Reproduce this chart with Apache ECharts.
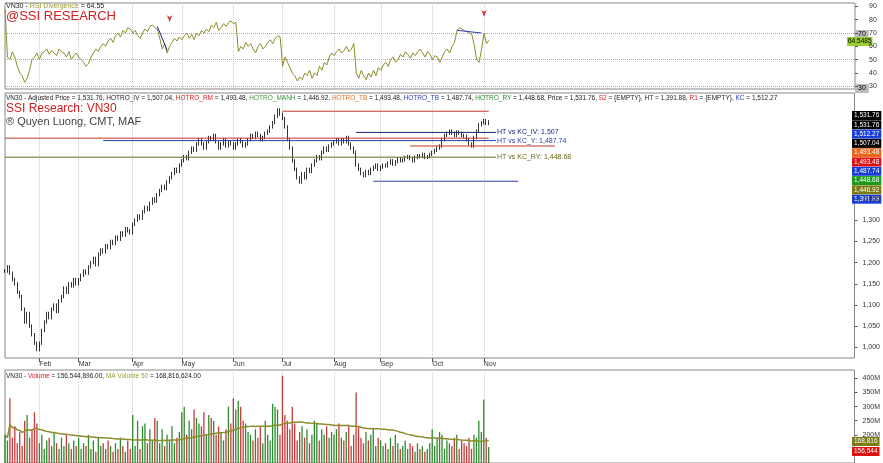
<!DOCTYPE html>
<html><head><meta charset="utf-8">
<script src="https://cdn.jsdelivr.net/npm/echarts@6/dist/echarts.min.js"></script>
<style>body{margin:0;background:#fff}#c{width:883px;height:463px}</style>
</head><body><div id="c"></div>
<script>
// daily closes, Jan .. early Nov
const closes = [
  1180,1190,1175,1160,1150,1130,1120,1090,1060,1080,1050,1030,1010,995,
  1010,1040,1060,1080,1070,1090,1100,1085,1110,1120,1140,1130,1150,1145,1160,1150,
  1160,1170,1180,1175,1190,1200,1210,1195,1220,1230,1225,1240,1235,1250,1245,1260,1255,1270,1265,1280,1275,1270,
  1290,1300,1310,1305,1320,1330,1325,1340,1350,1345,1360,1370,1380,1375,1390,1400,1410,1420,1415,1430,
  1440,1450,1445,1460,1470,1465,1480,1490,1480,1470,1485,1495,1490,1500,1485,1470,1480,1490,1475,1485,1480,
  1470,1480,1490,1485,1475,1480,1490,1500,1495,1505,1500,1490,1495,1505,1510,1520,1530,1545,1560,1550,
  1540,1520,1490,1470,1440,1420,1400,1390,1410,1400,1420,1415,1430,1440,1450,1445,1460,1470,1465,1475,1480,
  1485,1490,1480,1490,1485,1495,1480,1470,1460,1430,1420,1410,1405,1415,1410,1420,1425,1430,1420,
  1425,1430,1428,1435,1440,1432,1438,1445,1440,1442,1448,1450,1445,1440,1448,1452,1450,1455,1448,1450,1455,
  1460,1465,1470,1475,1490,1500,1505,1510,1505,1500,1508,1505,1500,1498,1490,1480,1475,1495,1510,1525,1530,
  1535,1528,1532
];
// volume, millions
const volumes = [
  200,180,330,190,230,170,210,160,250,270,190,220,280,240,
  170,200,150,180,190,160,210,170,150,190,160,200,170,150,180,160,
  190,150,170,160,200,150,180,140,190,160,170,150,180,160,140,170,150,190,160,140,180,150,
  270,160,250,150,230,240,170,220,180,260,250,170,220,160,200,180,230,170,190,210,
  280,300,200,250,220,290,260,240,230,280,200,270,260,250,200,230,210,180,220,300,240,
  330,290,320,300,250,240,210,200,180,220,190,230,170,250,200,180,310,300,290,200,
  410,270,250,220,300,240,180,210,230,190,220,170,200,250,240,180,220,200,230,190,210,
  200,220,240,190,180,210,230,160,200,350,230,190,170,210,180,200,220,160,190,
  180,160,170,150,190,160,200,170,150,160,180,150,170,160,140,170,150,160,140,150,170,
  220,160,190,210,200,150,180,170,160,190,200,150,180,170,160,190,150,200,190,250,210,
  325,190,157
];
const rsi = [
  88,52,50,56,52,45,40,38,33,36,42,50,52,55,
  50,55,56,58,54,57,55,53,58,56,55,52,56,50,53,55,
  52,50,48,45,47,52,55,58,56,60,62,60,64,66,63,68,70,67,72,70,74,73,
  70,72,68,66,70,73,71,75,76,74,73,66,58,62,55,60,63,66,64,67,
  65,68,70,66,69,65,70,68,72,70,73,71,76,74,78,72,74,77,75,78,79,
  77,78,56,60,58,63,60,62,58,55,60,62,58,60,63,65,62,66,68,67,
  45,52,48,44,40,38,34,37,35,40,38,42,36,40,38,45,42,48,46,52,55,
  53,56,58,55,57,60,56,58,62,40,36,42,38,35,40,37,42,38,44,
  42,46,48,45,50,52,48,50,54,52,56,54,51,55,53,56,58,55,52,56,54,
  50,53,52,48,52,56,58,55,60,63,72,74,73,72,71,70,69,61,50,48,58,
  70,62,64.55
];
const monthStarts = {14:'Feb',30:'Mar',52:'Apr',72:'May',93:'Jun',113:'Jul',134:'Aug',153:'Sep',174:'Oct',195:'Nov'};
const totalSlots = 347;
// support / resistance lines: [value, fromIdx, toIdx, colour, label]
const levels = [
  [1557, 113, 197, '#c0392b', ''],
  [1507.04, 143, 200, '#1a237e', 'HT vs KC_IV: 1,507'],
  [1493.48, 0, 197, '#c0392b', ''],
  [1487.74, 40, 200, '#2c3eb0', 'HT vs KC_Y: 1,487.74'],
  [1475, 165, 224, '#c0392b', ''],
  [1448.68, 0, 200, '#6b6b1a', 'HT vs KC_RY: 1,448.68'],
  [1391.88, 150, 209, '#2c3eb0', '']
];
const priceTags = [
  ['1,531.76','#000'],['1,531.76','#000'],['1,512.27','#1a3fd6'],['1,507.04','#000'],
  ['1,493.48','#e8651a'],['1,493.48','#e01010'],['1,487.74','#1a3fd6'],['1,448.68','#1a9a1a'],
  ['1,446.92','#7a7a10'],['1,391.88','#1a3fd6']
];
// header pieces: [text, colour]
const priceHeader = [
  ['VN30 - Adjusted Price = 1,531.76, HOTRO_IV = 1,507.04, ', '#222'], ['HOTRO_RM', '#d02020'],
  [' = 1,493.48, ', '#222'], ['HOTRO_MANH', '#3a9a3a'], [' = 1,446.92, ', '#222'], ['HOTRO_TB', '#e07020'],
  [' = 1,493.48, ', '#222'], ['HOTRO_TB', '#2c3eb0'], [' = 1,487.74, ', '#222'], ['HOTRO_RY', '#2a8a2a'],
  [' = 1,448.68, Price = 1,531.76, ', '#222'], ['S2', '#d02020'], [' = {EMPTY}, HT = 1,391.88, ', '#222'],
  ['R1', '#d02020'], [' = {EMPTY}, ', '#222'], ['KC', '#2c3eb0'], [' = 1,512.27', '#222']
];

const cats = Array.from({length: totalSlots}, (_, i) => i);
const ohlc = closes.map((c, i) => {
  const o = i ? closes[i - 1] : c;
  return [o, c, Math.min(o, c) - 4, Math.max(o, c) + 4];
});
const volData = volumes.map((v, i) => ({
  value: v,
  itemStyle: {color: (i && closes[i] < closes[i - 1]) ? '#c43b3b' : '#2e8b2e'}
}));
const ma50 = volumes.map((_, i) => {
  const s = volumes.slice(Math.max(0, i - 49), i + 1);
  return +(s.reduce((a, b) => a + b, 0) / s.length).toFixed(1);
});

const isMonth = (i) => monthStarts[i] !== undefined;
function xAxis(gi, showLabel) {
  return {
    type: 'category', gridIndex: gi, data: cats, boundaryGap: false,
    axisLine: {show: false},
    axisTick: {show: showLabel, interval: isMonth, length: 4, lineStyle: {color: '#555'}},
    axisLabel: {show: showLabel, interval: isMonth, formatter: (v) => monthStarts[v] || '',
      fontSize: 7, color: '#333', align: 'left', margin: 3},
    splitLine: {show: true, interval: isMonth, lineStyle: {color: '#ccc', type: 'dotted'}}
  };
}

const series = [
  {type: 'line', xAxisIndex: 0, yAxisIndex: 0, data: rsi, symbol: 'none',
   lineStyle: {color: '#8c8c2a', width: 1},
   markLine: {silent: true, symbol: 'none', label: {show: false},
     lineStyle: {color: '#aaa', type: 'dotted', width: 1},
     data: [{yAxis: 70}, {yAxis: 50}, {yAxis: 30}]}},
  {type: 'line', xAxisIndex: 0, yAxisIndex: 0, data: [[62, 75], [66, 57]], symbol: 'none',
   lineStyle: {color: '#1a237e', width: 1}},
  {type: 'line', xAxisIndex: 0, yAxisIndex: 0, data: [[184, 72], [194, 70]], symbol: 'none',
   lineStyle: {color: '#2c3eb0', width: 1}},
  {type: 'scatter', xAxisIndex: 0, yAxisIndex: 0, data: [[67, 78], [195, 82]],
   symbol: 'arrow', symbolRotate: 180, symbolSize: [4, 7], itemStyle: {color: '#d01010'}},
  {type: 'candlestick', xAxisIndex: 1, yAxisIndex: 1, data: ohlc, barMaxWidth: 1.6,
   itemStyle: {color: '#000', color0: '#000', borderColor: '#000', borderColor0: '#000', borderWidth: 0.8}},
  {type: 'bar', xAxisIndex: 2, yAxisIndex: 2, data: volData, barWidth: 1.3},
  {type: 'line', xAxisIndex: 2, yAxisIndex: 2, data: ma50, symbol: 'none',
   lineStyle: {color: '#8c8c2a', width: 1.5}}
];
levels.forEach(([v, a, b, col, lab]) => {
  series.push({type: 'line', xAxisIndex: 1, yAxisIndex: 1, symbol: 'none',
    data: [[a, v], [b, v]], lineStyle: {color: col, width: 1},
    endLabel: {show: !!lab, formatter: lab, fontSize: 7, color: col, distance: 1}});
});

const chart = echarts.init(document.getElementById('c'));
const axisLab = {fontSize: 7, color: '#333'};
chart.setOption({
  animation: false,
  textStyle: {fontFamily: 'Liberation Sans, Arial'},
  grid: [
    {left: 5, right: 28, top: 3, height: 86, show: true, borderColor: '#888', borderWidth: 1},
    {left: 5, right: 28, top: 93, height: 265, show: true, borderColor: '#888', borderWidth: 1},
    {left: 5, right: 28, top: 370, height: 93, show: true, borderColor: '#888', borderWidth: 1}
  ],
  xAxis: [xAxis(0, false), xAxis(1, true), xAxis(2, false)],
  yAxis: [
    {gridIndex: 0, position: 'right', min: 28, max: 92.5, interval: 10,
     axisLabel: Object.assign({customValues: [30, 40, 50, 60, 70, 80, 90], margin: 14}, axisLab),
     axisTick: {show: true, customValues: [30, 40, 50, 60, 70, 80, 90], length: 3},
     axisLine: {show: false}, splitLine: {show: false}},
    {gridIndex: 1, position: 'right', min: 975, max: 1600, scale: true,
     axisLabel: Object.assign({customValues: [1000, 1050, 1100, 1150, 1200, 1250, 1300, 1350],
       formatter: (v) => v.toLocaleString('en-US')}, axisLab),
     axisTick: {show: true, customValues: [1000, 1050, 1100, 1150, 1200, 1250, 1300, 1350], length: 3},
     axisLine: {show: false}, splitLine: {show: false}},
    {gridIndex: 2, position: 'right', min: 100, max: 430, scale: true,
     axisLabel: Object.assign({customValues: [200, 250, 300, 350, 400], formatter: (v) => v + 'M'}, axisLab),
     axisTick: {show: true, customValues: [200, 250, 300, 350, 400], length: 3},
     axisLine: {show: false}, splitLine: {show: false}}
  ],
  series: series
});

const g = [
  {type: 'text', left: 6, top: 3, style: {rich: {a: {fontSize: 7, fill: '#222'}, b: {fontSize: 7, fill: '#9a9a30'}},
    text: '{a|VN30 - }{b|RSI Divergence}{a| = 64.55}'}},
  {type: 'text', left: 6, top: 10, style: {text: '@SSI RESEARCH', fontSize: 13, fill: '#d02020'}},
  {type: 'text', left: 6, top: 103, style: {text: 'SSI Research: VN30', fontSize: 12, fill: '#d02020'}},
  {type: 'text', left: 6, top: 116, style: {text: '® Quyen Luong, CMT, MAF', fontSize: 11, fill: '#444'}},
  {type: 'text', left: 6, top: 373, style: {rich: {a: {fontSize: 6.5, fill: '#222'}, r: {fontSize: 6.5, fill: '#d02020'}, o: {fontSize: 6.5, fill: '#9a9a30'}},
    text: '{a|VN30 - }{r|Volume}{a| = 156,544,896.00, }{o|MA Volume 50}{a| = 168,816,624.00}'}},
  // RSI tags
  {type: 'text', left: 855, top: 30, style: {text: '70', fontSize: 7, fill: '#000', backgroundColor: '#bbb', padding: [1, 3]}},
  {type: 'text', left: 847, top: 37, style: {text: '64.5485', fontSize: 6.5, fill: '#000', backgroundColor: '#9acd32', padding: [1, 1]}},
  {type: 'text', left: 855, top: 84, style: {text: '30', fontSize: 7, fill: '#000', backgroundColor: '#bbb', padding: [1, 3]}}
];
// price header pieces laid out one after another
const ctx = document.createElement('canvas').getContext('2d');
ctx.font = '6.5px "Liberation Sans"';
let hx = 6;
priceHeader.forEach(([t, col]) => {
  g.push({type: 'text', left: hx, top: 95, style: {text: t, fontSize: 6.5, fill: col, fontFamily: 'Liberation Sans'}});
  hx += ctx.measureText(t).width;
});
priceTags.forEach(([t, col], i) => {
  g.push({type: 'text', left: 852, top: 111 + i * 9.3, style: {text: t, fontSize: 6.5, fill: '#fff', backgroundColor: col, padding: [1, 2]}});
});
g.push({type: 'text', left: 852, top: 437, style: {text: '168,816', fontSize: 6.5, fill: '#fff', backgroundColor: '#7a7a10', padding: [1, 2]}});
g.push({type: 'text', left: 852, top: 447, style: {text: '156,544', fontSize: 6.5, fill: '#fff', backgroundColor: '#e01010', padding: [1, 2]}});
chart.setOption({graphic: g});
</script></body></html>
